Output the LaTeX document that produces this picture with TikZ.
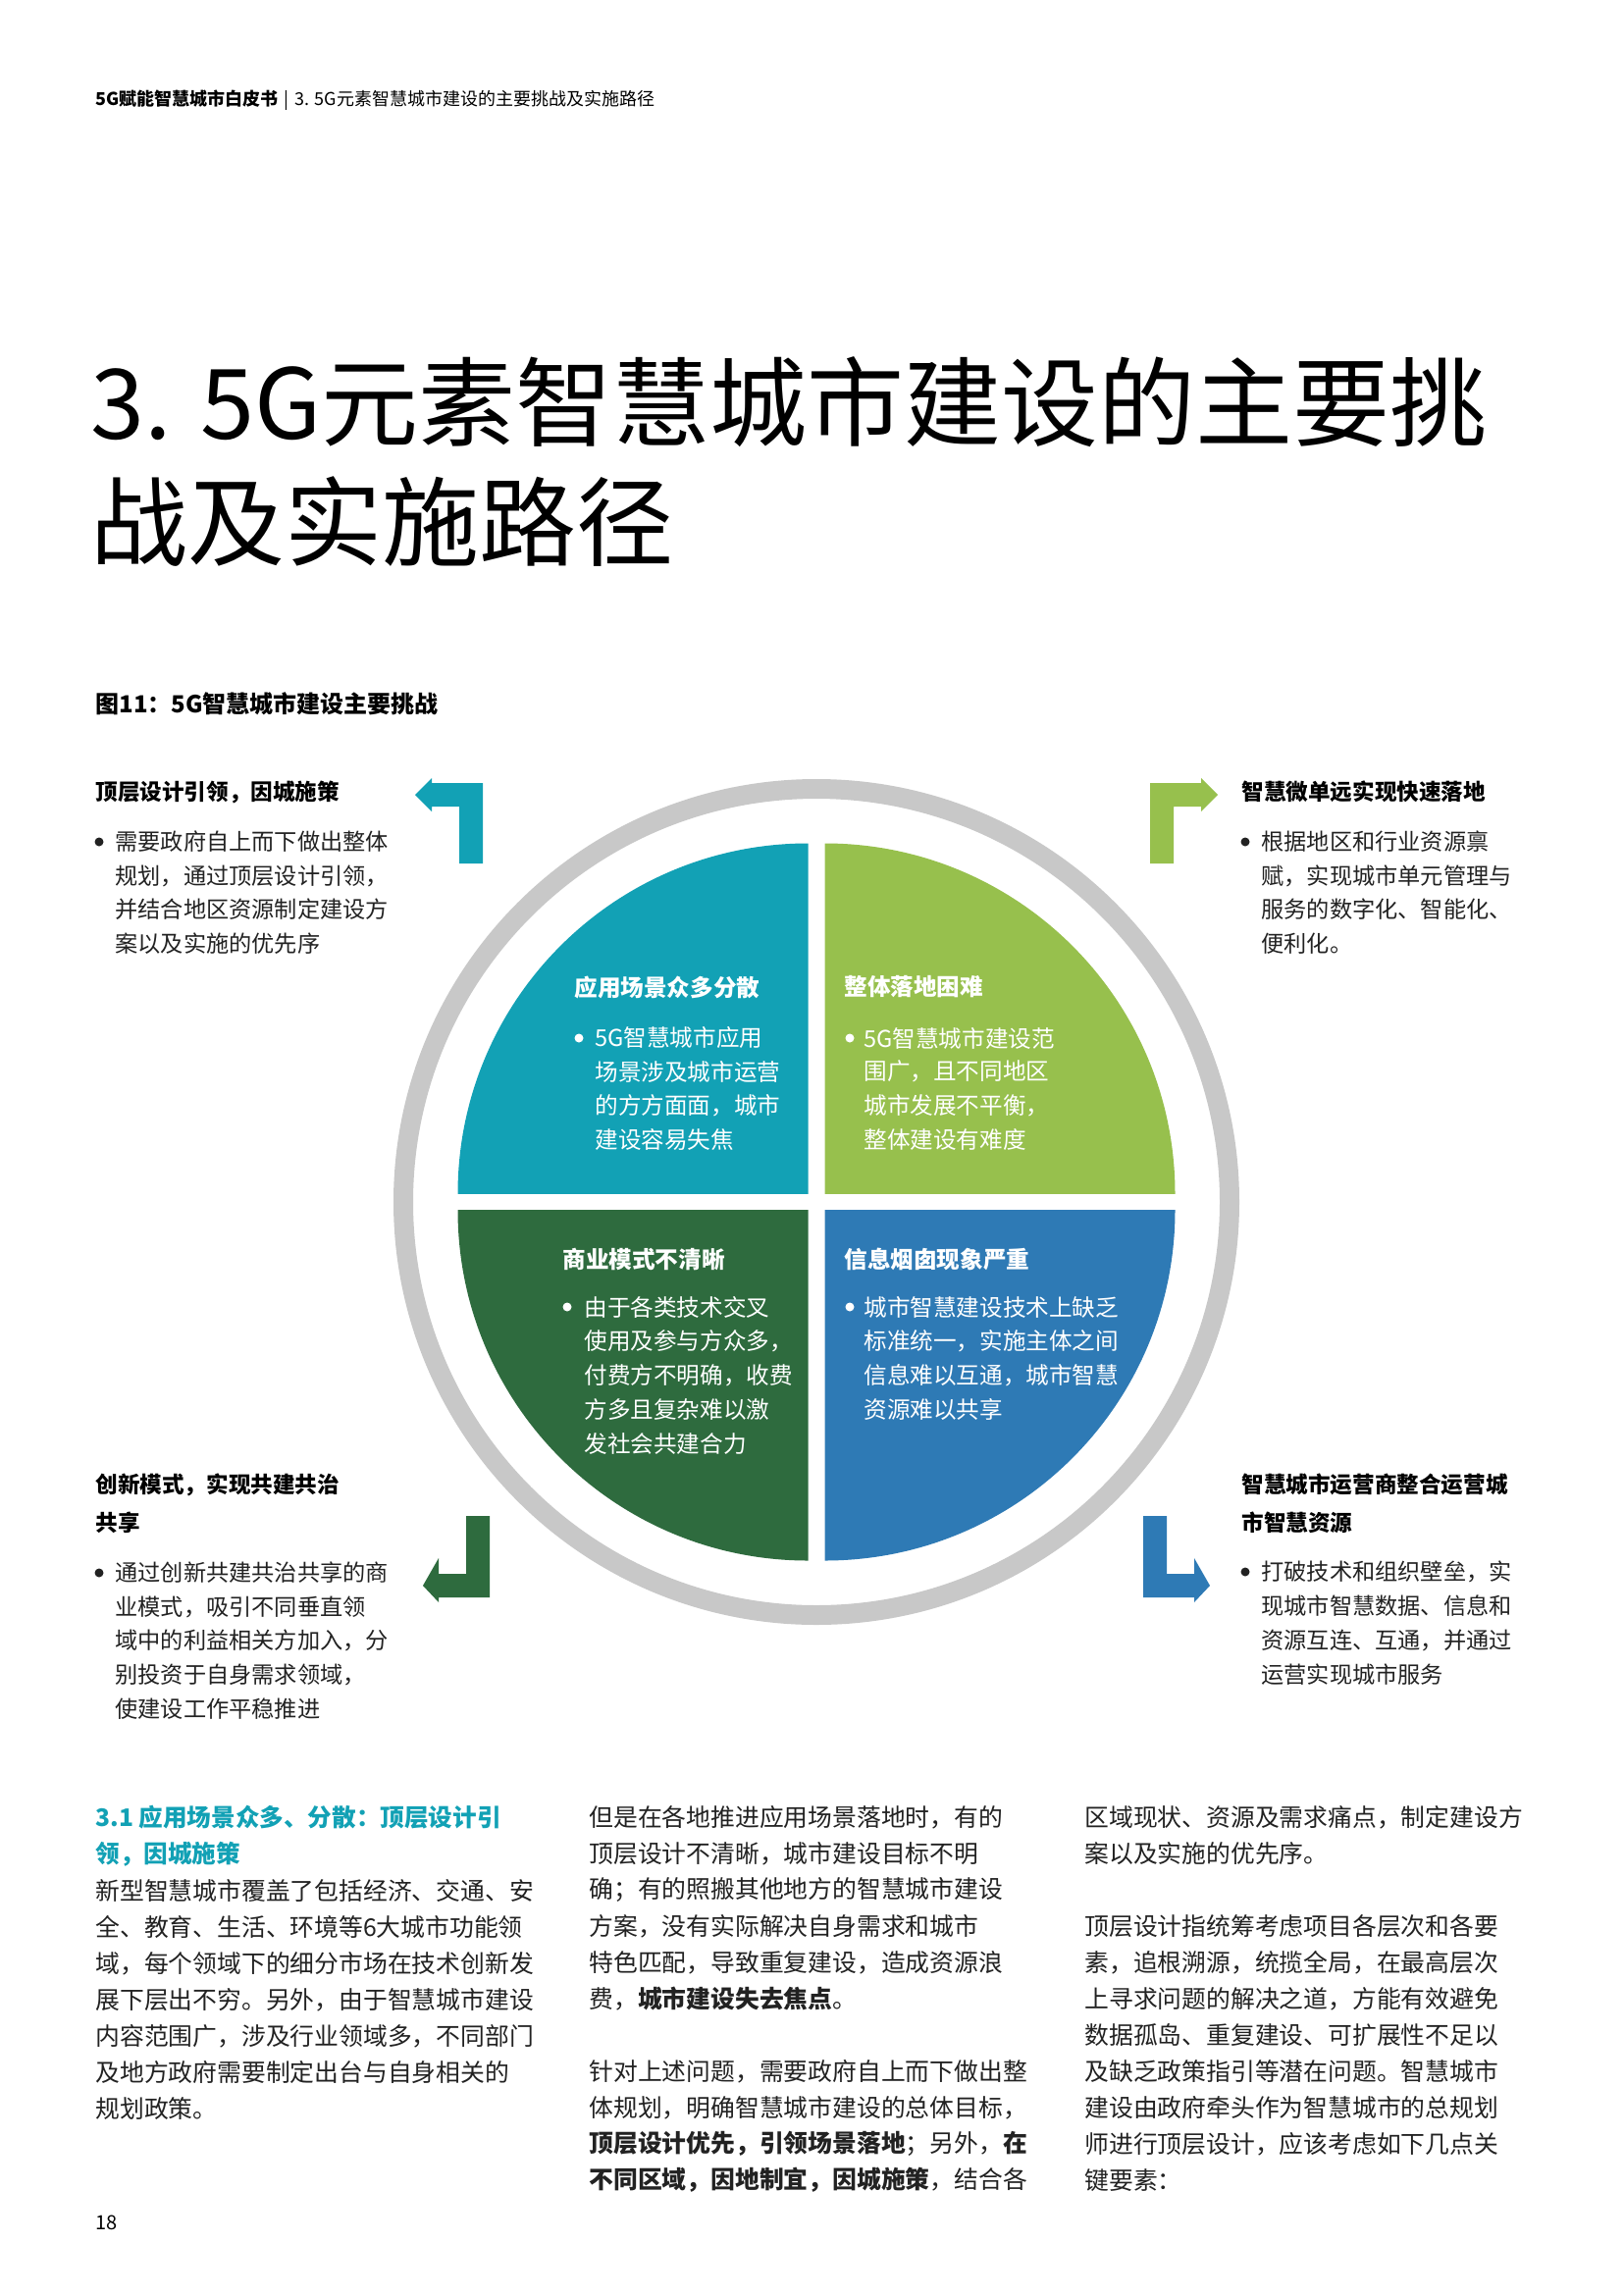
\documentclass[tikz,border=0pt]{standalone}
\usepackage{fontspec}
\setmainfont{Noto Sans CJK SC}
\definecolor{cteal}{HTML}{12A1B5}
\definecolor{cgreen}{HTML}{97C04D}
\definecolor{cdark}{HTML}{2E6B3E}
\definecolor{cblue}{HTML}{2E7AB5}
\definecolor{cring}{HTML}{C8C8C8}
\definecolor{ctext}{HTML}{222222}
\begin{document}
\begin{tikzpicture}[x=0.5pt,y=-0.5pt,
  ln/.style={anchor=west,inner sep=0pt,text=ctext,font=\fontsize{11.6}{13}\selectfont},
  hd/.style={anchor=west,inner sep=0pt,text=black,font=\fontsize{11.3}{13}\selectfont\bfseries},
  ql/.style={anchor=west,inner sep=0pt,text=white,font=\fontsize{11.8}{13}\selectfont},
  qh/.style={anchor=west,inner sep=0pt,text=white,font=\fontsize{11.8}{13}\selectfont\bfseries},
  bl/.style={anchor=west,inner sep=0pt,text=ctext,font=\fontsize{12.4}{14}\selectfont},
  dot/.style={circle,fill=#1,inner sep=0pt,minimum size=4.5pt}]
\useasboundingbox[fill=white] (0,0) rectangle (1654,2339);
% header
\node[anchor=west,inner sep=0pt,font=\fontsize{9}{11}\selectfont] (hdr) at (97,102) {\textbf{5G赋能智慧城市白皮书}\,\,|\,\,3. 5G元素智慧城市建设的主要挑战及实施路径};
% title
\node[anchor=west,inner sep=0pt,font=\fontsize{49.5}{55}\selectfont] (t1) at (92,410) {3. 5G元素智慧城市建设的主要挑};
\node[anchor=west,inner sep=0pt,font=\fontsize{49.5}{55}\selectfont] (t2) at (92,532) {战及实施路径};
\node[anchor=west,inner sep=0pt,font=\fontsize{12}{14}\selectfont\bfseries] (cap) at (97,717) {图11：5G智慧城市建设主要挑战};
% ring and quadrants
\draw[cring,line width=10pt] (832,1225) circle (421);
\begin{scope}\clip (466.5,859.5) rectangle (823.5,1216.5);
\fill[cteal] (823.5,1216.5) circle (357);\end{scope}
\begin{scope}\clip (840.5,859.5) rectangle (1197.5,1216.5);
\fill[cgreen] (840.5,1216.5) circle (357);\end{scope}
\begin{scope}\clip (466.5,1233.5) rectangle (823.5,1590.5);
\fill[cdark] (823.5,1233.5) circle (357);\end{scope}
\begin{scope}\clip (840.5,1233.5) rectangle (1197.5,1590.5);
\fill[cblue] (840.5,1233.5) circle (357);\end{scope}
% arrows
\fill[cteal] (492,880) -- (468,880) -- (468,822) -- (440,822) -- (440,827) -- (423,810) -- (440,793) -- (440,798) -- (492,798) -- cycle;
\fill[cgreen] (1172,880) -- (1196,880) -- (1196,822) -- (1224,822) -- (1224,827) -- (1241,810) -- (1224,793) -- (1224,798) -- (1172,798) -- cycle;
\fill[cblue] (1165,1545) -- (1189,1545) -- (1189,1604) -- (1217,1604) -- (1217,1588) -- (1233,1616) -- (1217,1633) -- (1217,1628) -- (1165,1628) -- cycle;
\fill[cdark] (499,1545) -- (475,1545) -- (475,1604) -- (447,1604) -- (447,1588) -- (431,1616) -- (447,1633) -- (447,1628) -- (499,1628) -- cycle;
% quadrant texts
\node[qh] (qa) at (585,1006) {应用场景众多分散};
\node[dot=white] (qad) at (590,1058) {};
\node[ql] (qa1) at (606,1058) {5G智慧城市应用};
\node[ql] (qa2) at (606,1092) {场景涉及城市运营};
\node[ql] (qa3) at (606,1127) {的方方面面，城市};
\node[ql] (qa4) at (606,1161) {建设容易失焦};
\node[qh] (qb) at (860,1006) {整体落地困难};
\node[dot=white] (qbd) at (866,1058) {};
\node[ql] (qb1) at (880,1058) {5G智慧城市建设范};
\node[ql] (qb2) at (880,1092) {围广，且不同地区};
\node[ql] (qb3) at (880,1127) {城市发展不平衡，};
\node[ql] (qb4) at (880,1161) {整体建设有难度};
\node[qh] (qc) at (573,1283) {商业模式不清晰};
\node[dot=white] (qcd) at (578,1332) {};
\node[ql] (qc1) at (595,1332) {由于各类技术交叉};
\node[ql] (qc2) at (595,1367) {使用及参与方众多，};
\node[ql] (qc3) at (595,1402) {付费方不明确，收费};
\node[ql] (qc4) at (595,1437) {方多且复杂难以激};
\node[ql] (qc5) at (595,1472) {发社会共建合力};
\node[qh] (qd) at (860,1283) {信息烟囱现象严重};
\node[dot=white] (qdd) at (866,1332) {};
\node[ql] (qd1) at (880,1332) {城市智慧建设技术上缺乏};
\node[ql] (qd2) at (880,1367) {标准统一，实施主体之间};
\node[ql] (qd3) at (880,1402) {信息难以互通，城市智慧};
\node[ql] (qd4) at (880,1437) {资源难以共享};
% corner texts
\node[hd] (ca) at (97,807) {顶层设计引领，因城施策};
\node[dot=ctext] (cad) at (101,858) {};
\node[ln] (ca1) at (117,858) {需要政府自上而下做出整体};
\node[ln] (ca2) at (117,893) {规划，通过顶层设计引领，};
\node[ln] (ca3) at (117,927) {并结合地区资源制定建设方};
\node[ln] (ca4) at (117,962) {案以及实施的优先序};
\node[hd] (cb) at (1265,807) {智慧微单远实现快速落地};
\node[dot=ctext] (cbd) at (1269,858) {};
\node[ln] (cb1) at (1285,858) {根据地区和行业资源禀};
\node[ln] (cb2) at (1285,893) {赋，实现城市单元管理与};
\node[ln] (cb3) at (1285,927) {服务的数字化、智能化、};
\node[ln] (cb4) at (1285,962) {便利化。};
\node[hd] (cc) at (97,1513) {创新模式，实现共建共治};
\node[hd] (cc0) at (97,1552) {共享};
\node[dot=ctext] (ccd) at (101,1603) {};
\node[ln] (cc1) at (117,1603) {通过创新共建共治共享的商};
\node[ln] (cc2) at (117,1638) {业模式，吸引不同垂直领};
\node[ln] (cc3) at (117,1672) {域中的利益相关方加入，分};
\node[ln] (cc4) at (117,1707) {别投资于自身需求领域，};
\node[ln] (cc5) at (117,1742) {使建设工作平稳推进};
\node[hd] (cd) at (1265,1513) {智慧城市运营商整合运营城};
\node[hd] (cd0) at (1265,1552) {市智慧资源};
\node[dot=ctext] (cdd) at (1269,1602) {};
\node[ln] (cd1) at (1285,1602) {打破技术和组织壁垒，实};
\node[ln] (cd2) at (1285,1637) {现城市智慧数据、信息和};
\node[ln] (cd3) at (1285,1672) {资源互连、互通，并通过};
\node[ln] (cd4) at (1285,1707) {运营实现城市服务};
% body column 1
\node[anchor=west,inner sep=0pt,text=cteal,font=\fontsize{12.3}{14}\selectfont\bfseries] (h31) at (97,1852) {3.1 应用场景众多、分散：顶层设计引};
\node[anchor=west,inner sep=0pt,text=cteal,font=\fontsize{12.3}{14}\selectfont\bfseries] (h32) at (97,1890) {领，因城施策};
\node[bl] (a1) at (97,1927) {新型智慧城市覆盖了包括经济、交通、安};
\node[bl] (a2) at (97,1964) {全、教育、生活、环境等6大城市功能领};
\node[bl] (a3) at (97,2001) {域，每个领域下的细分市场在技术创新发};
\node[bl] (a4) at (97,2038) {展下层出不穷。另外，由于智慧城市建设};
\node[bl] (a5) at (97,2075) {内容范围广，涉及行业领域多，不同部门};
\node[bl] (a6) at (97,2112) {及地方政府需要制定出台与自身相关的};
\node[bl] (a7) at (97,2149) {规划政策。};
% column 2
\node[bl] (b1) at (600,1852) {但是在各地推进应用场景落地时，有的};
\node[bl] (b2) at (600,1889) {顶层设计不清晰，城市建设目标不明};
\node[bl] (b3) at (600,1926) {确；有的照搬其他地方的智慧城市建设};
\node[bl] (b4) at (600,1963) {方案，没有实际解决自身需求和城市};
\node[bl] (b5) at (600,2000) {特色匹配，导致重复建设，造成资源浪};
\node[bl] (b6) at (600,2037) {费，\textbf{城市建设失去焦点}。};
\node[bl] (b7) at (600,2111) {针对上述问题，需要政府自上而下做出整};
\node[bl] (b8) at (600,2148) {体规划，明确智慧城市建设的总体目标，};
\node[bl] (b9) at (600,2185) {\textbf{顶层设计优先，引领场景落地}；另外，\textbf{在}};
\node[bl] (b10) at (600,2222) {\textbf{不同区域，因地制宜，因城施策}，结合各};
% column 3
\node[bl] (c1) at (1105,1852) {区域现状、资源及需求痛点，制定建设方};
\node[bl] (c2) at (1105,1889) {案以及实施的优先序。};
\node[bl] (c3) at (1105,1963) {顶层设计指统筹考虑项目各层次和各要};
\node[bl] (c4) at (1105,2000) {素，追根溯源，统揽全局，在最高层次};
\node[bl] (c5) at (1105,2037) {上寻求问题的解决之道，方能有效避免};
\node[bl] (c6) at (1105,2074) {数据孤岛、重复建设、可扩展性不足以};
\node[bl] (c7) at (1105,2111) {及缺乏政策指引等潜在问题。智慧城市};
\node[bl] (c8) at (1105,2148) {建设由政府牵头作为智慧城市的总规划};
\node[bl] (c9) at (1105,2185) {师进行顶层设计，应该考虑如下几点关};
\node[bl] (c10) at (1105,2222) {键要素：};
\node[anchor=west,inner sep=0pt,font=\fontsize{10}{12}\selectfont] (pg) at (97,2265) {18};
\end{tikzpicture}
\end{document}
